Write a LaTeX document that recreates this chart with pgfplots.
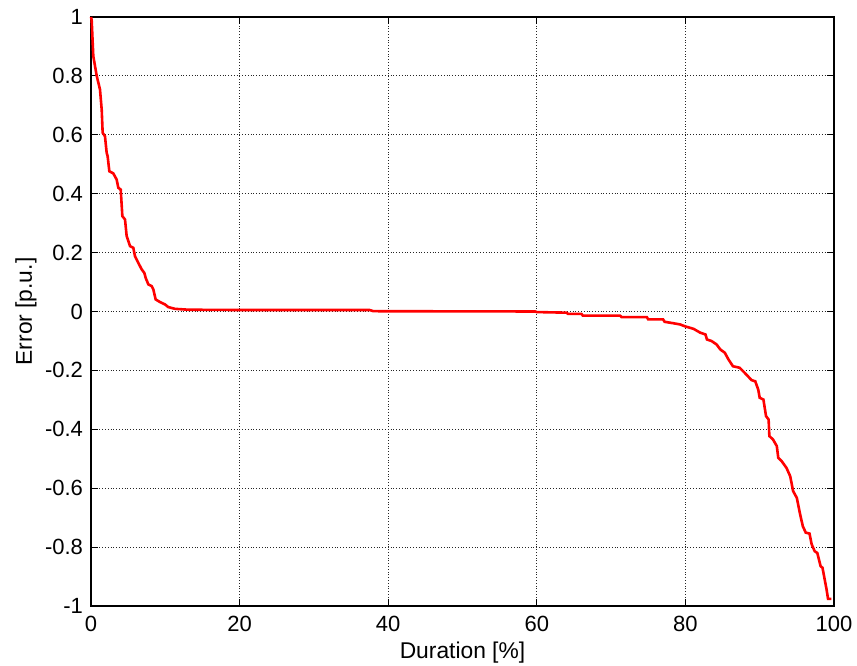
\documentclass[border=0pt]{standalone}
\usepackage{fontspec}
\setmainfont{Liberation Sans}
\usepackage{pgfplots}
\pgfplotsset{compat=1.18}
\begin{document}
\begin{tikzpicture}
\begin{axis}[
  width=371.5pt, height=294.5pt, scale only axis,
  xmin=0, xmax=100, ymin=-1, ymax=1,
  xtick={0,20,40,60,80,100},
  ytick={-1,-0.8,-0.6,-0.4,-0.2,0,0.2,0.4,0.6,0.8,1},
  yticklabels={-1,-0.8,-0.6,-0.4,-0.2,0,0.2,0.4,0.6,0.8,1},
  /pgf/number format/assume math mode=true,
  tick align=inside, tick pos=both,
  major tick length=3.7pt,
  tick style={black, line width=0.5pt},
  grid=major,
  major grid style={black!85, densely dotted, line width=0.5pt},
  axis line style={black, line width=0.6pt},
  ticklabel style={font=\fontsize{11}{13}\selectfont},
  xticklabel style={yshift=-1.5pt},
  yticklabel style={xshift=-0.5pt},
  xlabel={Duration [\%]},
  ylabel={Error [p.u.]},
  xlabel style={font=\fontsize{11.4}{13}\selectfont, at={([yshift=-26.5pt]axis description cs:0.5,0)}, anchor=base},
  ylabel style={font=\fontsize{11.4}{13}\selectfont, at={([xshift=-29.5pt]axis description cs:0,0.5)}, anchor=base, rotate=0},
  clip=false,
]
\addplot[red, line width=1.3pt] coordinates {
(0.0,1.0) (0.09,0.99) (0.31,0.867) (0.77,0.80) (1.21,0.754) (1.44,0.686) (1.57,0.607)
(1.88,0.595) (2.11,0.539) (2.24,0.527) (2.47,0.476) (3.0,0.469) (3.45,0.448)
(3.68,0.42) (4.0,0.414) (4.22,0.324) (4.58,0.312) (4.8,0.256) (5.25,0.222)
(5.7,0.216) (5.92,0.188) (6.37,0.165) (6.82,0.143) (7.18,0.131) (7.36,0.114)
(7.72,0.092) (8.17,0.086) (8.39,0.075) (8.7,0.041) (9.29,0.032) (9.96,0.024)
(10.4,0.015) (11.3,0.009) (13.1,0.006) (20,0.005) (37.5,0.005) (38,0.001)
(59.8,0.0) (60,-0.002) (64,-0.004) (64.2,-0.008) (66,-0.008) (66.2,-0.014)
(71.2,-0.014) (71.4,-0.019) (74.8,-0.019) (75,-0.027) (77,-0.027) (77.2,-0.035)
(78.4,-0.04) (79.3,-0.044) (79.9,-0.05) (81.1,-0.059) (82.0,-0.072) (82.7,-0.078)
(82.9,-0.095) (83.5,-0.10) (84.2,-0.112) (84.7,-0.129) (85.3,-0.140) (85.8,-0.163)
(86.4,-0.186) (87.3,-0.191) (88.2,-0.214) (88.9,-0.233) (89.4,-0.237) (89.8,-0.265)
(90.0,-0.293) (90.5,-0.299) (90.85,-0.355) (91.2,-0.367) (91.3,-0.423) (91.8,-0.435)
(92.3,-0.457) (92.5,-0.497) (92.95,-0.508) (93.6,-0.531) (94.1,-0.559) (94.5,-0.610)
(95.0,-0.633) (95.4,-0.684) (95.8,-0.729) (96.2,-0.751) (96.7,-0.754) (97.0,-0.791)
(97.4,-0.814) (97.75,-0.82) (98.2,-0.865) (98.45,-0.870) (99.0,-0.944) (99.2,-0.976)
(99.65,-0.976)
};
\end{axis}
\pgfresetboundingbox
\path[use as bounding box] (current axis.south west) ++(-45.5pt,-30pt) rectangle ([xshift=11.5pt,yshift=8.5pt]current axis.north east);
\end{tikzpicture}
\end{document}
